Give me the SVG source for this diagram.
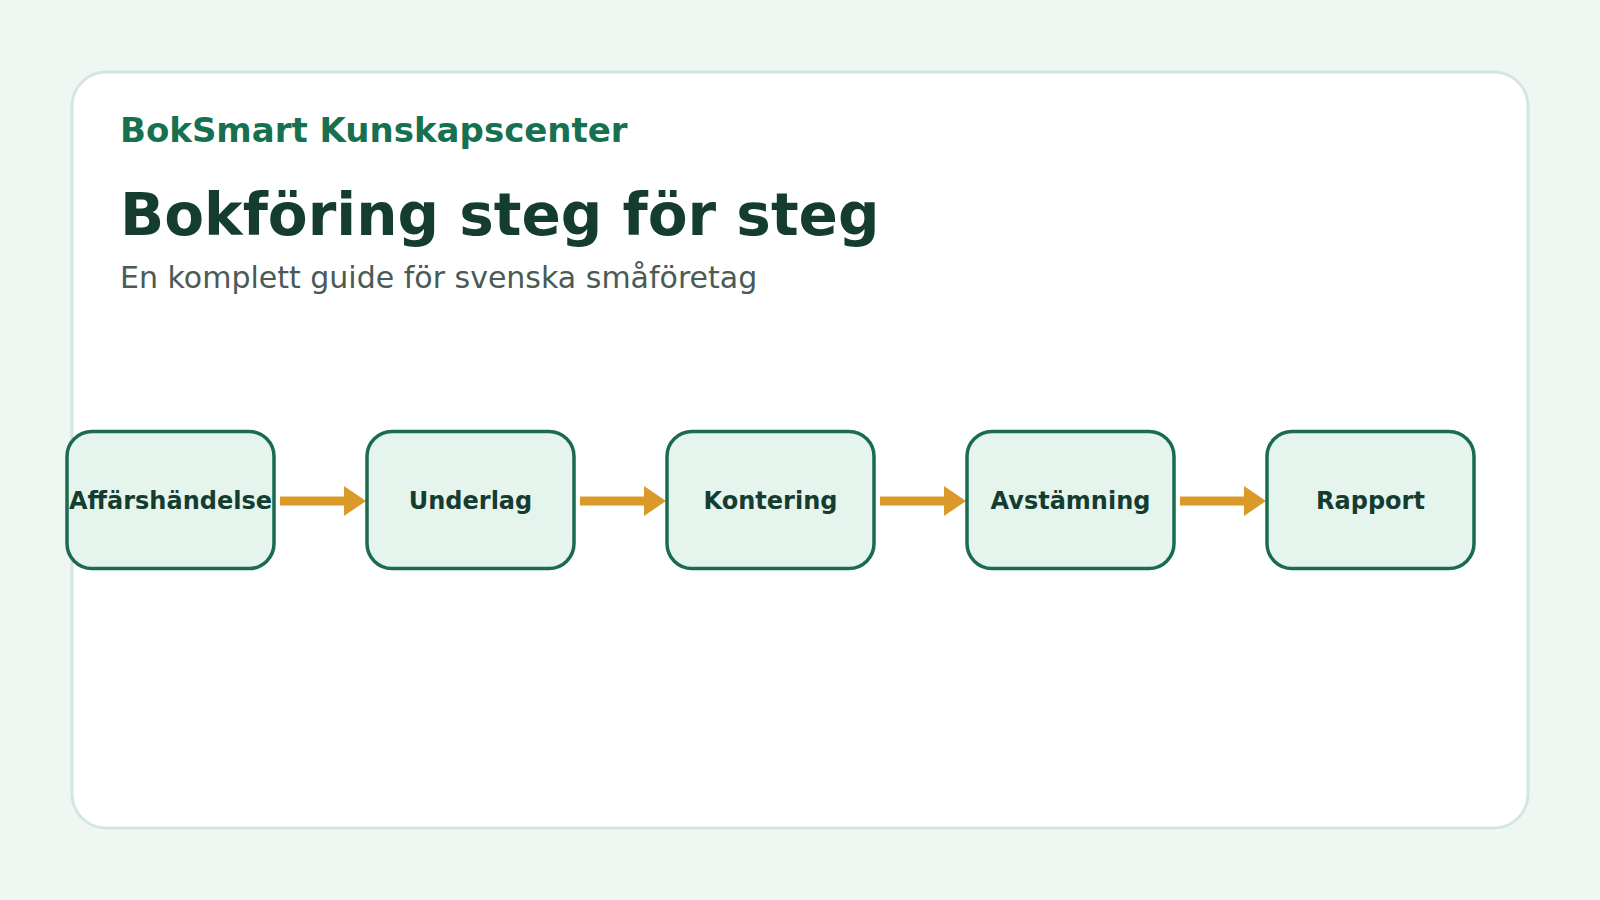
<svg xmlns="http://www.w3.org/2000/svg" width="1600" height="900" viewBox="0 0 1600 900">
<defs>
<style>
.node rect{fill:#e6f4ee;stroke:#1a6b50;stroke-width:3.5}
.node text{font-family:"DejaVu Sans",sans-serif;font-weight:bold;font-size:24px;fill:#143d30;text-anchor:middle}
.conn line{stroke:#d99a29;stroke-width:9}
.conn polygon{fill:#d99a29}
</style>
</defs>
<rect x="0" y="0" width="1600" height="900" fill="#eef7f2"/>
<rect x="72" y="72" width="1456" height="756" rx="34" fill="#ffffff" stroke="#d4e6de" stroke-width="3"/>
<text x="120" y="142" font-family="DejaVu Sans, sans-serif" font-weight="bold" font-size="34" fill="#17704f">BokSmart Kunskapscenter</text>
<text x="120" y="235" font-family="DejaVu Sans, sans-serif" font-weight="bold" font-size="58" fill="#143d30">Bokföring steg för steg</text>
<text x="120" y="288" font-family="DejaVu Sans, sans-serif" font-size="30" fill="#4a5a55">En komplett guide för svenska småföretag</text>
<g id="connectors" class="conn">
<line x1="280" y1="501" x2="346" y2="501"/><polygon points="344,486 366,501 344,516"/>
<line x1="580" y1="501" x2="646" y2="501"/><polygon points="644,486 666,501 644,516"/>
<line x1="880" y1="501" x2="946" y2="501"/><polygon points="944,486 966,501 944,516"/>
<line x1="1180" y1="501" x2="1246" y2="501"/><polygon points="1244,486 1266,501 1244,516"/>
</g>
<g id="node1" class="node"><rect x="67" y="431.5" width="207" height="137" rx="25"/><text x="170.5" y="509">Affärshändelse</text></g>
<g id="node2" class="node"><rect x="367" y="431.5" width="207" height="137" rx="25"/><text x="470.5" y="509">Underlag</text></g>
<g id="node3" class="node"><rect x="667" y="431.5" width="207" height="137" rx="25"/><text x="770.5" y="509">Kontering</text></g>
<g id="node4" class="node"><rect x="967" y="431.5" width="207" height="137" rx="25"/><text x="1070.5" y="509">Avstämning</text></g>
<g id="node5" class="node"><rect x="1267" y="431.5" width="207" height="137" rx="25"/><text x="1370.5" y="509">Rapport</text></g>
</svg>
